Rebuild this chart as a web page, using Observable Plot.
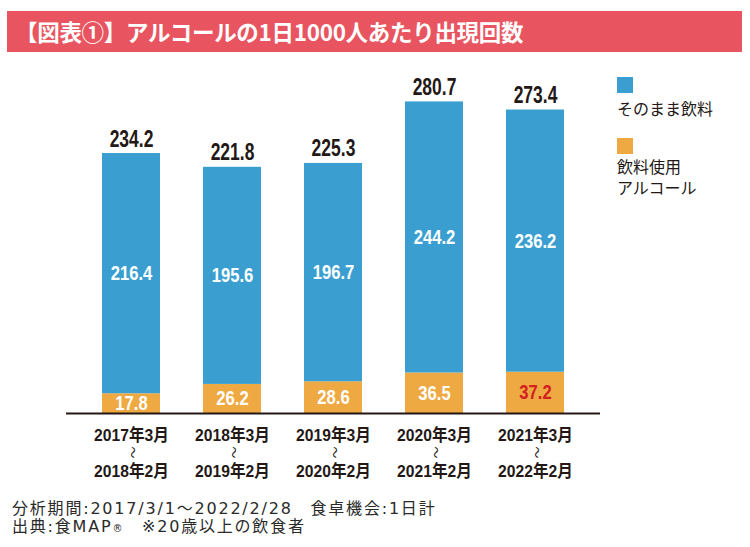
<!DOCTYPE html>
<html><head><meta charset="utf-8">
<script src="https://cdn.jsdelivr.net/npm/d3@7"></script>
<script src="https://cdn.jsdelivr.net/npm/@observablehq/plot@0.6"></script>
<style>
body{margin:0;background:#fff;}
#wrap{position:relative;width:750px;height:547px;overflow:hidden;font-family:"Noto Sans CJK JP",sans-serif;}
#title{position:absolute;left:7px;top:11px;width:735px;height:41px;background:#e8545f;color:#fff;font-weight:bold;font-size:22.5px;line-height:41px;padding-left:8px;box-sizing:border-box;letter-spacing:-0.3px;white-space:nowrap;}
#chart{position:absolute;left:0;top:60px;}
.leg{position:absolute;left:617px;font-size:16px;color:#231815;line-height:16px;white-space:nowrap;}
.sw{position:absolute;left:617px;width:16px;height:16px;}
.foot{position:absolute;left:12px;font-size:16px;color:#2a2a2a;line-height:16px;white-space:pre;font-family:"DejaVu Sans","Noto Sans CJK JP",sans-serif;letter-spacing:1.8px;}
</style></head>
<body><div id="wrap">
<div id="title">【図表①】アルコールの1日1000人あたり出現回数</div>
<div id="chart"></div>
<div class="sw" style="top:77px;background:#3a9fd0"></div>
<div class="leg" style="top:100px">そのまま飲料</div>
<div class="sw" style="top:138px;background:#eea942"></div>
<div class="leg" style="top:158px">飲料使用</div>
<div class="leg" style="top:179px">アルコール</div>
<div class="foot" style="top:501px">分析期間:2017/3/1～2022/2/28　食卓機会:1日計</div>
<div class="foot" style="top:519px">出典:食MAP<span style="font-size:10px;line-height:0">®</span>　※20歳以上の飲食者</div>
</div>
<script>
const periodStart = ["2017年3月","2018年3月","2019年3月","2020年3月","2021年3月"];
const periodEnd = ["2018年2月","2019年2月","2020年2月","2021年2月","2022年2月"];
const direct = [216.4, 195.6, 196.7, 244.2, 236.2];
const cooking = [17.8, 26.2, 28.6, 36.5, 37.2];
const totals = [234.2, 221.8, 225.3, 280.7, 273.4];
const seriesNames = ["飲料使用アルコール", "そのまま飲料"];
const seriesColors = ["#eea942", "#3a9fd0"];

const rows = [];
periodStart.forEach((p, i) => {
  rows.push({period: p, series: seriesNames[0], value: cooking[i], mid: cooking[i] / 2, last: i === periodStart.length - 1});
  rows.push({period: p, series: seriesNames[1], value: direct[i], mid: cooking[i] + direct[i] / 2, last: false});
});
const tops = periodStart.map((p, i) => ({period: p, total: totals[i], end: periodEnd[i]}));

const numFont = "'Liberation Sans','Noto Sans CJK JP',sans-serif";
const chart = Plot.plot({
  width: 750, height: 420,
  marginLeft: 66, marginRight: 150, marginTop: 20, marginBottom: 67,
  x: {domain: periodStart, paddingInner: 0.43, paddingOuter: 0.345, axis: null},
  y: {domain: [0, 300], axis: null},
  color: {domain: seriesNames, range: seriesColors},
  marks: [
    Plot.barY(rows, {x: "period", y: "value", fill: "series", order: seriesNames}),
    Plot.ruleY([0], {stroke: "#231815", strokeWidth: 2}),
    Plot.text(rows, {x: "period", y: "mid", text: d => d.value.toFixed(1), fill: d => d.last ? "#d42020" : "#fff", fontSize: 20, fontWeight: "bold", fontFamily: numFont, lineAnchor: "middle", className: "c83"}),
    Plot.text(tops, {x: "period", y: "total", text: d => d.total.toFixed(1), fill: "#231815", fontSize: 23, fontWeight: "bold", fontFamily: numFont, lineAnchor: "bottom", dy: -7, className: "c76"}),
    Plot.text(tops, {x: "period", text: "period", frameAnchor: "bottom", lineAnchor: "middle", dy: 22, fontSize: 17, fontWeight: "bold", fill: "#231815", fontFamily: numFont, className: "c92"}),
    Plot.text(tops, {x: "period", text: () => "〜", rotate: 90, frameAnchor: "bottom", lineAnchor: "middle", dy: 39, fontSize: 12, fill: "#231815", fontFamily: "'Noto Sans CJK JP',sans-serif"}),
    Plot.text(tops, {x: "period", text: "end", frameAnchor: "bottom", lineAnchor: "middle", dy: 58, fontSize: 17, fontWeight: "bold", fill: "#231815", fontFamily: numFont, className: "c92"})
  ]
});
document.getElementById("chart").appendChild(chart);
// condense glyphs (no narrow face installed)
[["c83", 0.83], ["c76", 0.76], ["c92", 0.92]].forEach(([cls, k]) => {
  chart.querySelectorAll(`g.${cls} text`).forEach(t => {
    const w = t.getComputedTextLength();
    t.setAttribute("textLength", (w * k).toFixed(2));
    t.setAttribute("lengthAdjust", "spacingAndGlyphs");
  });
});
</script>
</body></html>
